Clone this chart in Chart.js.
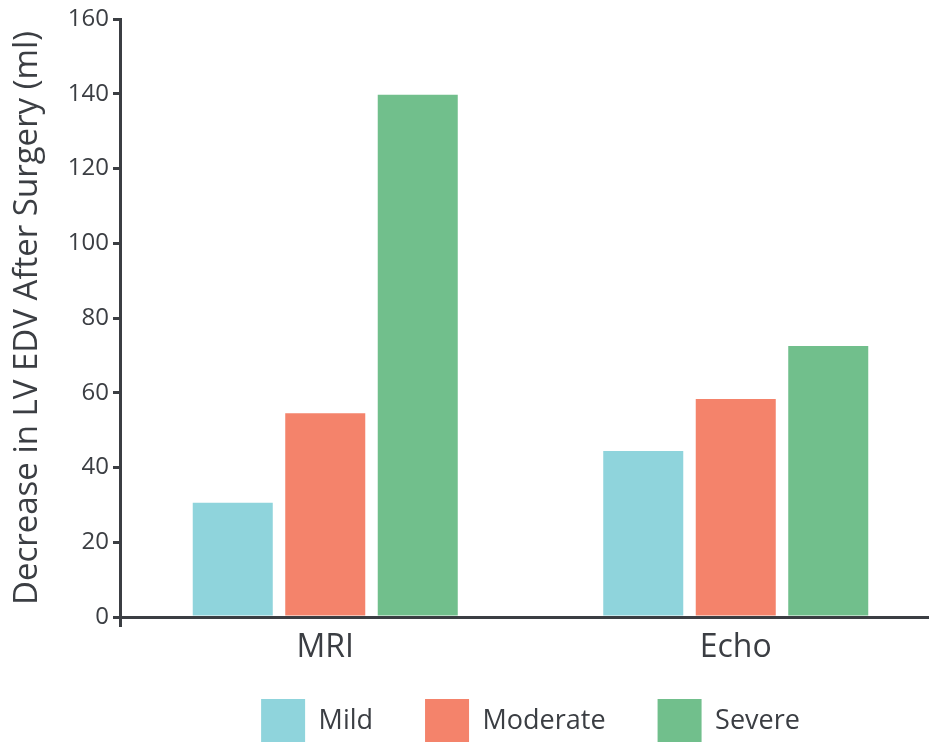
<!DOCTYPE html>
<html>
<head>
<meta charset="utf-8">
<script src="https://cdn.jsdelivr.net/npm/chart.js@4.4.1/dist/chart.umd.min.js"></script>
<style>
  html, body { margin:0; padding:0; background:#fff; overflow:hidden; }
  #wrap { width:941px; height:753px; }
</style>
</head>
<body>
<div id="wrap"><canvas id="chart" width="941" height="753"></canvas></div>
<script>
// data
const categories = ["MRI", "Echo"];
const mildValues = [30.6, 44.4];
const moderateValues = [54.5, 58.3];
const severeValues = [139.7, 72.5];
const yTicks = [0, 20, 40, 60, 80, 100, 120, 140, 160];
const yTitle = "Decrease in LV EDV After Surgery (ml)";

const ink = '#3b3e43';
const fam = '"Open Sans", "Noto Sans", sans-serif';
const legendGap = 52;

// x scale is squeezed so the legend sits close; give its labels room again after layout
const labelRoom = {
  id: 'labelRoom',
  afterLayout(chart){ chart.scales.x.bottom = chart.scales.x.top + 60; }
};

const ctx = document.getElementById('chart').getContext('2d');
new Chart(ctx, {
  type: 'bar',
  data: {
    labels: categories,
    datasets: [
      {label:'Mild', data: mildValues, backgroundColor:'#8fd4dc'},
      {label:'Moderate', data: moderateValues, backgroundColor:'#f4836b'},
      {label:'Severe', data: severeValues, backgroundColor:'#71bf8c'}
    ]
  },
  options: {
    responsive: false,
    animation: false,
    datasets: { bar: { categoryPercentage: 0.676, barPercentage: 0.865, borderWidth: 0 } },
    layout: { padding: { top: 19, left: 0, right: 0, bottom: 0 } },
    plugins: {
      tooltip: { enabled: false },
      legend: {
        position: 'bottom',
        fullSize: false,
        labels: {
          boxWidth: 44, boxHeight: 44, padding: legendGap,
          color: ink, font: { family: fam, size: 27 }
        }
      }
    },
    scales: {
      x: {
        grid: { display: true, drawOnChartArea: false, drawTicks: true, tickLength: 10, lineWidth: 3,
                color: 'transparent',
                tickColor: c => c.index === 0 ? ink : 'transparent' },
        border: { display: true, color: ink, width: 3 },
        ticks: { color: ink, font: { family: fam, size: 32 }, padding: 2 },
        afterFit: s => { s.height = 82 - legendGap; }
      },
      y: {
        min: 0, max: 160,
        afterBuildTicks: s => { s.ticks = yTicks.map(v => ({value: v})); },
        grid: { drawOnChartArea: false, drawTicks: true, tickLength: 7, lineWidth: 3, color: ink },
        border: { display: true, color: ink, width: 3 },
        ticks: { color: ink, font: { family: fam, size: 24 }, padding: 4 },
        title: { display: true, text: yTitle, color: ink, font: { family: fam, size: 33 }, padding: { top: 8, bottom: 0 } },
        afterFit: s => { s.width = 120; }
      }
    }
  },
  plugins: [labelRoom]
});
</script>
</body>
</html>
